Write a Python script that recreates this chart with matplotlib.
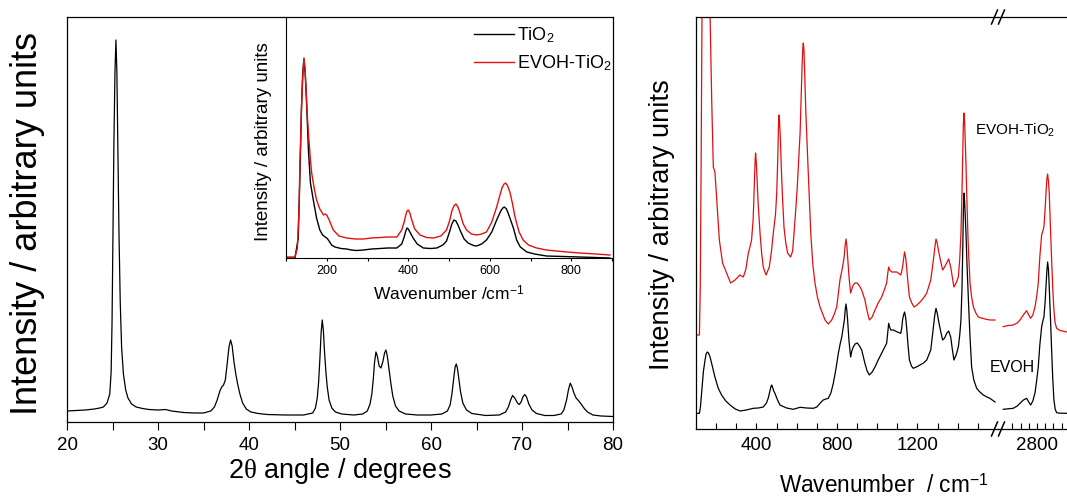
"""XRD pattern with Raman inset, and Raman spectra of EVOH / EVOH-TiO2 on a broken axis."""
import matplotlib
matplotlib.use("Agg")
import matplotlib.pyplot as plt
from matplotlib.lines import Line2D
from matplotlib.ticker import FixedLocator, MultipleLocator

plt.rcParams["font.family"] = ["Liberation Sans", "DejaVu Sans"]
plt.rcParams["mathtext.fontset"] = "custom"
plt.rcParams["mathtext.rm"] = "Liberation Sans"
plt.rcParams["mathtext.it"] = "Liberation Serif"

# --- XRD of TiO2 (left panel) ---
xrd_two_theta = [
    20.0, 21.0, 22.0, 23.0, 23.6, 24.0, 24.4, 24.7, 24.85, 24.95, 25.05, 25.15, 25.27,
    25.38, 25.48, 25.6, 25.71, 25.85, 26.0, 26.2, 26.45, 26.7, 27.1, 27.6, 28.3, 29.0,
    30.0, 30.8, 31.5, 32.8, 34.0, 35.0, 35.8, 36.2, 36.5, 36.8, 37.0, 37.2, 37.4, 37.6,
    37.8, 37.98, 38.15, 38.35, 38.55, 38.75, 39.0, 39.3, 39.7, 40.2, 41.0, 42.0, 44.0,
    46.0, 47.0, 47.3, 47.5, 47.65, 47.8, 47.93, 48.05, 48.17, 48.3, 48.45, 48.6, 48.8,
    49.1, 49.5, 50.2, 51.5, 52.5, 53.0, 53.3, 53.5, 53.65, 53.8, 53.95, 54.1, 54.3,
    54.5, 54.7, 54.9, 55.05, 55.2, 55.4, 55.6, 55.8, 56.1, 56.5, 57.2, 58.5, 60.0,
    61.2, 61.8, 62.1, 62.3, 62.5, 62.65, 62.78, 62.9, 63.05, 63.25, 63.5, 63.9, 64.5,
    66.0, 67.5, 68.2, 68.5, 68.75, 68.96, 69.2, 69.5, 69.7, 69.9, 70.1, 70.3, 70.5,
    70.75, 71.1, 71.6, 72.5, 73.5, 74.3, 74.6, 74.9, 75.1, 75.3, 75.5, 75.7, 75.95,
    76.2, 76.5, 76.8, 77.2, 77.8, 78.7, 80.0,
]
xrd_intensity = [
    11, 11.5, 12, 13, 14, 15, 19, 28, 50, 100, 190, 275, 350,
    382, 350, 265, 190, 120, 75, 48, 32, 24, 18, 15, 13.5, 12.5,
    12, 12.5, 11, 9.5, 9, 9, 11, 15, 22, 31, 35, 37, 42, 58,
    75, 82, 76, 60, 48, 38, 28, 19, 13, 10, 8.5, 7.5, 7,
    7, 9, 14, 24, 40, 65, 90, 102, 92, 70, 50, 35, 22,
    14, 10, 8, 7, 8, 11, 18, 28, 42, 60, 70, 66, 56,
    54, 60, 69, 72, 66, 52, 38, 26, 16, 11, 8, 7, 7,
    8, 11, 17, 28, 44, 55, 58, 54, 44, 30, 19, 12, 8.5,
    6.5, 7, 10, 15, 22, 26.5, 24, 19, 17.5, 20, 25, 27.5, 25,
    18, 12, 8.5, 6.5, 6.5, 8, 12, 22, 32, 38.8, 35, 29, 24,
    21.5, 18, 14, 10, 7, 6, 5.5,
]

# --- Raman inset: TiO2 and EVOH-TiO2 ---
inset_wn_tio2 = [
    100, 122, 130, 134, 138, 141, 144, 147, 150, 155, 160, 167, 175, 183, 190, 196,
    200, 204, 212, 220, 235, 249, 260, 273, 290, 310, 331, 350, 372, 384, 390, 394,
    397, 400, 404, 412, 422, 437, 455, 470, 485, 494, 502, 507, 512, 517, 522, 527,
    537, 547, 560, 568, 580, 592, 605, 617, 627, 632, 636, 641, 646, 652, 658, 666,
    675, 691, 710, 739, 780, 821, 860, 895,
]
inset_tio2 = [
    0, 0, 20, 80, 150, 185, 199, 185, 160, 108, 75, 58, 40, 28, 23, 21,
    20, 18, 13, 11, 9.5, 9, 8, 7.5, 8, 9, 9.5, 10, 10, 14, 21, 27,
    30, 29, 26, 20, 14, 10, 9.5, 10, 13, 17, 27, 34, 38, 37, 33, 28,
    19, 15, 12.5, 12, 14, 18, 26, 38, 47, 50, 51, 49, 44, 37, 30, 18,
    11, 6, 4, 2, 1.5, 1, 0.5, 0,
]
inset_wn_evoh_tio2 = [
    100, 122, 128, 132, 134, 138, 141, 144, 147, 149, 152, 155, 160, 163, 170, 175,
    183, 192, 196, 200, 206, 216, 230, 249, 270, 290, 310, 331, 350, 372, 384, 390,
    394, 397, 400, 404, 408, 416, 429, 445, 462, 480, 494, 502, 507, 512, 517, 522,
    527, 535, 543, 555, 568, 580, 592, 605, 617, 625, 630, 635, 639, 644, 650, 656,
    662, 672, 682, 695, 715, 739, 781, 821, 860, 895,
]
inset_evoh_tio2 = [
    1, 1, 10, 50, 91, 150, 180, 200, 188, 171, 145, 125, 98, 85, 68, 58,
    49, 43, 44, 43, 38, 28, 22, 20, 19, 19, 20, 20.5, 21, 21, 28, 36,
    43, 47, 48, 45, 39, 29, 23, 20.5, 20, 22, 28, 38, 47, 52, 54, 51,
    45, 34, 28, 24, 23, 24, 26, 36, 51, 63, 70, 74, 75, 72, 65, 54,
    41, 26, 18, 13, 10, 8, 6.3, 5, 4, 3,
]

# --- Raman spectra, right panel, low wavenumber part ---
low_wn_evoh = [
    107, 117, 122, 128, 137, 145, 150, 156, 162, 170, 182, 194, 210, 227, 248, 269,
    295, 319, 350, 385, 410, 434, 450, 459, 467, 473, 476, 480, 486, 492, 505, 517,
    550, 583, 617, 650, 683, 700, 716, 732, 745, 757, 770, 782, 795, 807, 816, 824,
    831, 837, 841, 845, 849, 853, 860, 868, 874, 881, 890, 901, 912, 923, 939, 950,
    961, 975, 989, 1005, 1022, 1035, 1047, 1052, 1057, 1062, 1067, 1080, 1100, 1117,
    1122, 1126, 1131, 1136, 1141, 1146, 1153, 1160, 1170, 1179, 1195, 1213, 1230,
    1246, 1266, 1279, 1286, 1292, 1298, 1304, 1315, 1325, 1335, 1345, 1355, 1365,
    1373, 1381, 1392, 1403, 1410, 1416, 1421, 1425, 1428, 1431, 1434, 1438, 1441,
    1446, 1453, 1461, 1469, 1480, 1494, 1510, 1527, 1545, 1560, 1585,
]
low_evoh = [
    15.7, 15.7, 22, 36, 58, 69, 75, 77, 76, 72, 62, 52, 41, 34, 28, 24,
    20, 18, 19, 20.7, 21, 22, 26, 31, 38, 43, 44, 42, 38, 35.7, 29, 24,
    21, 19.7, 21.7, 21, 20.7, 22, 25.7, 29, 30, 30.7, 36, 45.7, 60, 75.7, 85, 92,
    101, 109, 119, 125, 119, 109, 88, 72, 78, 82, 85, 86, 83, 79, 65.7, 58,
    54, 57, 62, 69, 75.7, 81, 85.7, 96, 105.7, 102, 99, 99, 97, 95.7,
    101, 109, 114, 117, 112, 102, 84, 69, 63, 60.7, 62, 64, 66,
    69, 79, 102, 114, 120.7, 116, 109, 98, 89, 91, 95.7, 98, 92,
    80, 69, 74, 82, 94, 109, 140, 180, 218, 236, 228, 210, 196,
    165, 129, 92, 62, 49, 40.7, 37, 34, 32, 30.7, 27,
]
low_wn_evoh_tio2 = [
    100, 117, 121, 125, 130, 134, 140, 150, 162, 170, 178, 186, 194, 203, 216, 232,
    252, 272, 294, 318, 335, 348, 360, 368, 376, 384, 390, 394, 396, 399, 403, 408,
    418, 426, 434, 448, 464, 475, 484, 495, 501, 506, 510, 512, 515, 519, 524, 530,
    537, 546, 555, 570, 580, 587, 595, 603, 610, 617, 622, 627, 631, 633, 636, 640,
    645, 653, 662, 670, 680, 691, 703, 716, 741, 757, 774, 787, 799, 815, 828, 836,
    841, 845, 849, 853, 860, 868, 874, 881, 890, 901, 912, 923, 939, 950, 961, 975,
    989, 1005, 1022, 1035, 1047, 1052, 1057, 1062, 1072, 1085, 1097, 1110, 1117, 1122,
    1126, 1131, 1136, 1141, 1146, 1153, 1160, 1172, 1183, 1198, 1213, 1230, 1246,
    1266, 1279, 1286, 1292, 1298, 1304, 1315, 1325, 1335, 1345, 1355, 1365, 1373,
    1381, 1392, 1403, 1410, 1416, 1421, 1425, 1428, 1431, 1434, 1437, 1441, 1446,
    1452, 1461, 1469, 1478, 1490, 1502, 1518, 1535, 1560, 1585,
]
low_evoh_tio2 = [
    94, 94, 140, 250, 420, 600, 700, 640, 520, 412, 329, 262, 257, 229, 189, 166,
    156, 146, 149, 154, 152, 160, 176, 182, 189, 210, 248, 270, 276, 268, 252, 228,
    196, 176, 162, 154, 162, 178, 196, 215, 236, 270, 305, 314, 308, 290, 260, 230,
    202, 186, 176, 172, 178, 196, 218, 242, 268, 296, 330, 364, 382, 386, 380, 355,
    320, 279, 236, 196, 165, 146, 132, 122, 109, 105, 109, 115, 122, 149, 162, 172,
    184, 190, 184, 172, 152, 136, 140, 144, 146, 146, 143, 139, 129, 118, 109, 112,
    119, 126, 132, 139, 146, 155, 162, 159, 157, 157, 157, 155, 154, 158,
    162, 170, 177, 172, 162, 146, 132, 126, 122, 124, 127, 131, 136,
    149, 169, 181, 190, 186, 179, 168, 159, 162, 166, 170, 162, 152,
    142, 146, 152, 170, 196, 235, 275, 305, 316, 308, 290, 265, 225,
    185, 146, 132, 122, 116, 112, 111, 110, 109, 109,
]

# --- Raman spectra, right panel, C-H stretching part ---
high_wn_evoh = [2389, 2450, 2511, 2560, 2593, 2635, 2674, 2700, 2723, 2750, 2776,
                2796, 2816, 2835, 2857, 2872, 2885, 2898, 2910, 2921, 2930, 2940,
                2950, 2965, 2979, 2993, 3007, 3022, 3040, 3080, 3166, 3400]
high_evoh = [19.7, 20.2, 20.7, 23, 25.7, 29, 30.7, 27, 24, 28, 36,
             48, 62, 84, 102, 108, 112, 125, 142, 158, 167, 160,
             142, 110, 79, 50, 29, 20, 16.3, 15.8, 15.7, 15.5]
high_wn_evoh_tio2 = [2389, 2450, 2511, 2560, 2593, 2634, 2674, 2700, 2723, 2750, 2776,
                     2796, 2816, 2835, 2857, 2872, 2885, 2898, 2910, 2921, 2930, 2940,
                     2950, 2965, 2979, 2993, 3007, 3022, 3040, 3080, 3166, 3400]
high_evoh_tio2 = [102.3, 103.5, 104, 106, 109, 114, 118.3, 114, 110.7, 114, 122,
                  132, 145.7, 172, 194, 198, 202, 218, 235.7, 250, 255, 248,
                  235.7, 200, 169, 140, 119, 106, 100.7, 98.5, 97, 96]

W, H = 1067, 496
RED = "#e01010"


def px_box(x0, y0, x1, y1):
    """Axes rectangle from pixel edges (origin top left)."""
    return [x0 / W, 1 - y1 / H, (x1 - x0) / W, (y1 - y0) / H]


fig = plt.figure(figsize=(W / 100, H / 100), dpi=100)

# Left panel: XRD
ax = fig.add_axes(px_box(67, 17, 613, 422))
ax.plot(xrd_two_theta, xrd_intensity, color="black", lw=0.9)
ax.set_xlim(20, 80)
ax.set_ylim(0, 405)
ax.set_yticks([])
ax.xaxis.set_major_locator(MultipleLocator(10))
ax.xaxis.set_minor_locator(MultipleLocator(5))
ax.tick_params(axis="x", which="both", direction="out", length=5.5, width=0.8,
               labelsize=13.5, pad=5)
for spine in ax.spines.values():
    spine.set_linewidth(0.9)
fig.text(27.5 / W, 1 - 223.5 / H, "Intensity / arbitrary units", rotation=90,
         ha="center", va="center", fontsize=26)
fig.text(340 / W, 1 - 478 / H, r"2$\theta$ angle / degrees", ha="center",
         va="baseline", fontsize=19.5)

# Inset: Raman of TiO2 and EVOH-TiO2
ax_in = fig.add_axes(px_box(286, 17, 612, 258))
ax_in.patch.set_facecolor("none")
ax_in.plot(inset_wn_tio2, inset_tio2, color="black", lw=1.0, label="TiO$_2$")
ax_in.plot(inset_wn_evoh_tio2, inset_evoh_tio2, color=RED, lw=1.0,
           label="EVOH-TiO$_2$")
ax_in.set_xlim(100, 900)
ax_in.set_ylim(0, 241)
ax_in.set_yticks([])
ax_in.spines["top"].set_visible(False)
ax_in.spines["right"].set_visible(False)
ax_in.xaxis.set_major_locator(MultipleLocator(200))
ax_in.xaxis.set_minor_locator(MultipleLocator(100))
ax_in.tick_params(axis="x", which="both", direction="out", length=2.5, width=0.8,
                  labelsize=9, pad=2.5)
fig.text(263.5 / W, 1 - 141.5 / H, "Intensity / arbitrary units", rotation=90,
         ha="center", va="center", fontsize=13.5)
fig.text(449 / W, 1 - 300 / H, "Wavenumber /cm$^{-1}$", ha="center",
         va="baseline", fontsize=12.5)
ax_in.legend(loc="upper left", bbox_to_anchor=(474 / W, 1 - 25 / H),
             bbox_transform=fig.transFigure, frameon=False, fontsize=13,
             handlelength=2.2, handletextpad=0.2, labelspacing=0.45,
             borderpad=0, borderaxespad=0)

# Right panel: broken wavenumber axis
ax_lo = fig.add_axes(px_box(696, 17, 998, 429))
ax_hi = fig.add_axes(px_box(998, 17, 998 + 1175 * 0.082, 429))
ax_hi.patch.set_visible(False)
ax_lo.plot(low_wn_evoh, low_evoh, color="black", lw=0.9)
ax_lo.plot(low_wn_evoh_tio2, low_evoh_tio2, color=RED, lw=0.9)
ax_hi.plot(high_wn_evoh, high_evoh, color="black", lw=0.9)
ax_hi.plot(high_wn_evoh_tio2, high_evoh_tio2, color=RED, lw=0.9)
ax_lo.set_xlim(100, 1600)
ax_hi.set_xlim(2325, 3500)
for a in (ax_lo, ax_hi):
    a.set_ylim(0, 412)
    a.set_yticks([])
    a.tick_params(axis="x", which="both", direction="in", length=4.3, width=0.8,
                  labelsize=13.5, pad=5.8)
    for spine in a.spines.values():
        spine.set_linewidth(0.9)
ax_lo.spines["right"].set_visible(False)
ax_hi.spines["left"].set_visible(False)
ax_lo.xaxis.set_major_locator(FixedLocator([400, 800, 1200]))
ax_lo.xaxis.set_minor_locator(FixedLocator([200, 300, 500, 600, 700, 900, 1000,
                                            1100, 1300, 1400, 1500]))
ax_hi.xaxis.set_major_locator(FixedLocator([2800]))
ax_hi.xaxis.set_minor_locator(FixedLocator([2500, 2600, 2700, 2900, 3000, 3100,
                                            3200, 3300, 3400]))

ax_lo.text(1486, 294, "EVOH-TiO$_2$", fontsize=11, va="baseline")
ax_lo.text(1560, 57, "EVOH", fontsize=11.5, va="baseline")

fig.text(662 / W, 1 - 225 / H, "Intensity / arbitrary units", rotation=90,
         ha="center", va="center", fontsize=19.7)
fig.text(884 / W, 1 - 493 / H, "Wavenumber  / cm$^{-1}$", ha="center",
         va="baseline", fontsize=16.3)

# axis break marks
for y_px in (17, 429):
    for x_px in (994.5, 1001.5):
        fig.add_artist(Line2D([(x_px - 3) / W, (x_px + 3) / W],
                              [1 - (y_px + 7) / H, 1 - (y_px - 7) / H],
                              color="black", lw=1.1))

fig.savefig("out.png", dpi=100)
